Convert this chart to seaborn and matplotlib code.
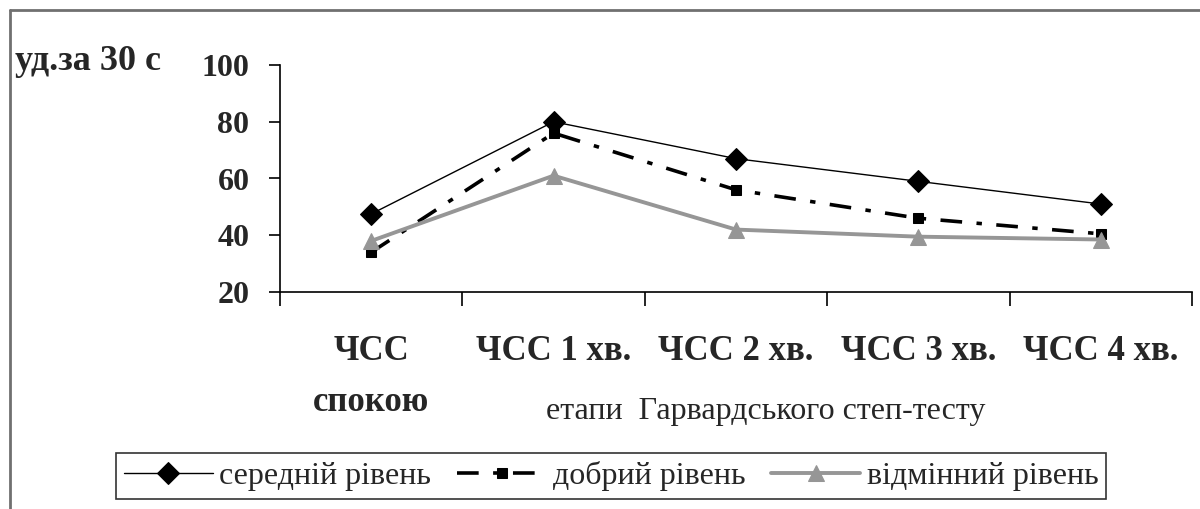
import seaborn as sns
import matplotlib.pyplot as plt
import numpy as np
from matplotlib.lines import Line2D

# data
stages = ['ЧСС\nспокою', 'ЧСС 1 хв.', 'ЧСС 2 хв.', 'ЧСС 3 хв.', 'ЧСС 4 хв.']
avg_level = [47.5, 80, 67, 59, 51]
good_level = [34, 76, 56, 46, 40.5]
excellent_level = [38, 61, 42, 39.5, 38.5]
series_names = ['середній рівень', 'добрий рівень', 'відмінний рівень']
y_ticks = [20, 40, 60, 80, 100]

sns.set_style('white')
plt.rcParams['font.family'] = ['Liberation Serif', 'DejaVu Serif']

fig = plt.figure(figsize=(12, 5.09), dpi=100)
ax = fig.add_axes([280/1200, 1-292/509, (1192-280)/1200, (292-65)/509])

x = np.arange(len(stages))

sns.lineplot(x=x, y=avg_level, ax=ax, color='black', lw=1.0,
             marker='D', markersize=11, markeredgecolor='black',
             label=series_names[0])
sns.lineplot(x=x, y=good_level, ax=ax, color='black', lw=2.6,
             linestyle=(0, (6, 4, 1.5, 4)),
             marker='s', markersize=7, markeredgecolor='black',
             label=series_names[1])
sns.lineplot(x=x, y=excellent_level, ax=ax, color='#969696', lw=2.8,
             marker='^', markersize=11, markeredgecolor='#969696',
             label=series_names[2])

ax.set_xlim(-0.5, len(stages) - 0.5)
ax.set_ylim(20, 100)
ax.set_yticks(y_ticks)
ax.set_yticklabels([str(v) for v in y_ticks], fontsize=23, fontweight='bold')

# boundaries between categories carry the ticks, labels sit in the middle
ax.set_xticks(np.arange(-0.5, len(stages)), labels=[''] * (len(stages) + 1))
ax.set_xticks(x, labels=stages, minor=True)
ax.tick_params(axis='x', which='major', bottom=True, direction='out',
               length=10, width=1.2, color='black')
ax.tick_params(axis='x', which='minor', bottom=True, length=0, pad=31, labelsize=25)
for t in ax.get_xticklabels(minor=True):
    t.set_fontweight('bold')
    t.set_verticalalignment('top')
    t.set_linespacing(1.7)
ax.tick_params(axis='y', left=True, direction='out', length=8, width=1.2,
               color='black', pad=14)

for s in ['top', 'right']:
    ax.spines[s].set_visible(False)
for s in ['left', 'bottom']:
    ax.spines[s].set_color('black')
    ax.spines[s].set_linewidth(1.2)

ax.get_legend().remove()
ax.set_xlabel('')

fig.text(15/1200, 1-62/509, 'уд.за 30 с', fontsize=26, fontweight='bold',
         ha='left', va='center')
fig.text(766/1200, 1-411/509, 'етапи  Гарвардського степ-тесту', fontsize=23,
         ha='center', va='center')

handles, labels = ax.get_legend_handles_labels()
leg = fig.legend(handles, labels, ncol=3, loc='center',
                 bbox_to_anchor=(611/1200, 1-476/509), fontsize=23,
                 frameon=True, fancybox=False, edgecolor='black',
                 handlelength=2.8, columnspacing=0.8, handletextpad=0.2,
                 borderpad=0.25)
leg.get_frame().set_linewidth(1.2)

# outer chart frame (clipped at right and bottom in the reference)
fig.add_artist(Line2D([10/1200, 1], [1-10/509, 1-10/509], transform=fig.transFigure,
                      color='#707070', lw=2))
fig.add_artist(Line2D([10/1200, 10/1200], [0, 1-10/509], transform=fig.transFigure,
                      color='#707070', lw=2))

fig.savefig('out.png', dpi=100)
